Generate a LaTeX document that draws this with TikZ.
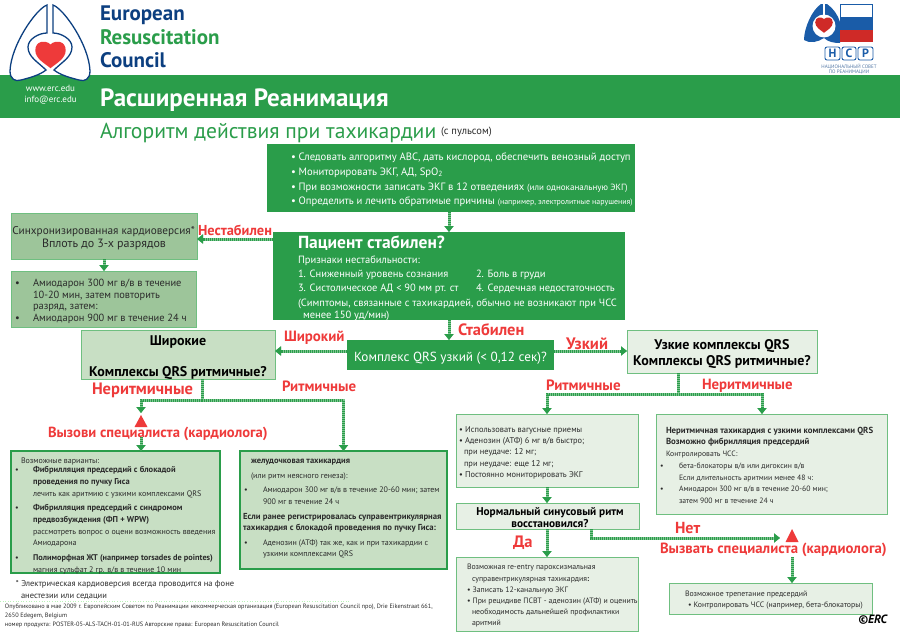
\documentclass[tikz,border=0pt]{standalone}
\usepackage{fontspec}
\setmainfont{PT Sans}
\usetikzlibrary{arrows.meta}
\definecolor{hgreen}{HTML}{2A9D4A}
\definecolor{navy}{HTML}{0C3F80}
\definecolor{lred}{HTML}{EE3A3A}
\definecolor{midg}{HTML}{9DC59A}
\definecolor{paleg}{HTML}{C8DFC4}
\definecolor{verypale}{HTML}{E7F0E5}
\definecolor{bordg}{HTML}{6FBF80}
\definecolor{ink}{HTML}{2B2B2B}
\definecolor{nsrblue}{HTML}{1A5CA8}
\definecolor{nsrred}{HTML}{CF2A27}
\newcounter{txn}
\newcommand\tx[4][]{\stepcounter{txn}\node[txtline,anchor=mid west,#1] (t\thetxn) at (#2,#3) {#4};}
\newcommand\bx[6]{\node[#2,minimum width={(#5-#3)*1pt},minimum height={(#6-#4)*1pt}] (#1) at ({(#3+#5)/2},{(#4+#6)/2}) {};}
\newcommand\heartpath{(0,-9) .. controls (-5,-14) and (-16,-13) .. (-16,-3) .. controls (-16,6) and (-6,11) .. (0,16) .. controls (6,11) and (16,6) .. (16,-3) .. controls (16,-13) and (5,-14) .. (0,-9) -- cycle}
\newcommand\lungpath{(47,5) .. controls (36,9) and (11,45) .. (10,71) .. controls (10,79) and (15,82) .. (21,80) .. controls (29,78) and (40,75) .. (46,70) .. controls (38,62) and (28,57) .. (28,47) .. controls (28,39) and (39,33) .. (47,33) -- cycle}
\tikzset{
  txtline/.style={inner sep=0pt,outer sep=0pt,text=ink},
  fs/.style={font=\fontsize{#1}{#1}\selectfont,yshift={-0.35*(#1-6)*1pt}},
  bs/.style={font=\fontsize{#1}{#1}\selectfont\bfseries,yshift={-0.35*(#1-6)*1pt}},
  wht/.style={text=white},
  lbl/.style={text=lred,font=\fontsize{#1}{#1}\selectfont\bfseries,yshift={-0.35*(#1-6)*1pt}},
  boxbase/.style={rectangle,inner sep=0pt,outer sep=0pt},
  solidbox/.style={boxbase,fill=hgreen},
  midbox/.style={boxbase,fill=midg,draw=bordg,line width=.8pt},
  palebox/.style={boxbase,fill=paleg,draw=bordg,line width=.8pt},
  strongbox/.style={boxbase,fill=paleg,draw=hgreen,line width=1.2pt},
  litebox/.style={boxbase,fill=verypale,draw=bordg,line width=.9pt},
  link/.style={draw=hgreen,line width=3pt,dash pattern=on 1pt off 1pt,preaction={draw=hgreen!60!white,line width=3pt,solid}},
  conn/.style={link,-{Triangle[length=6pt,width=9pt]}},
}
\begin{document}
\begin{tikzpicture}[x=1pt,y=-1pt]
\useasboundingbox (0,0) rectangle (900,637);
% header band
\fill[hgreen] (0,75) rectangle (900,118);
% ERC logo
\filldraw[fill=white,draw=navy,line width=1.3pt] \lungpath;
\begin{scope}[xscale=-1,xshift=-100pt]
\filldraw[fill=white,draw=navy,line width=1.3pt] \lungpath;
\end{scope}
\begin{scope}[shift={(50.5,53)},scale=.95]
\fill[lred] \heartpath;
\end{scope}
\tx[bs=21,text=navy]{100}{13}{European}
\tx[bs=21,text=hgreen]{100}{37}{Resuscitation}
\tx[bs=21,text=navy]{100}{60}{Council}
\tx[fs=9,wht,anchor=mid]{50.5}{88}{www.erc.edu}
\tx[fs=9,wht,anchor=mid]{50.5}{99}{info@erc.edu}
\tx[bs=25,wht]{100}{97}{Расширенная Реанимация}
\tx[fs=21.6,text=hgreen]{100}{131}{Алгоритм действия при тахикардии}
\tx[fs=10.5]{441}{130}{(с  пульсом)}
% NSR logo
\fill[nsrblue] (821,4) .. controls (812,10) and (804,28) .. (804,40) .. controls (810,44) and (818,42) .. (824,38) -- (824,4) -- cycle;
\fill[nsrblue] (827,4) .. controls (833,8) and (838,15) .. (840,22) -- (840,43) .. controls (834,43) and (828,42) .. (824,38) -- (824,4) -- cycle;
\fill[white] (824,26) circle (11.5pt);
\fill[white] (823,4) rectangle (825,16);
\begin{scope}[shift={(824,24)},scale=.55]
\fill[nsrred] \heartpath;
\end{scope}
\draw[nsrblue,line width=.6pt,fill=white] (840,4.5) rectangle (872.5,17);
\fill[nsrblue] (840,17) rectangle (873,30);
\fill[nsrred] (840,30) rectangle (873,42);
\foreach \a/\b/\c/\n in {825/840/Н/h,842/856/С/s,858/873/Р/r}{
  \node[boxbase,draw=nsrblue,line width=.9pt,rounded corners=2pt,minimum width={(\b-\a)*1pt},minimum height=13pt,text=nsrblue,font=\fontsize{12}{12}\selectfont\bfseries] (nsr\n) at ({(\a+\b)/2},53.5) {\c};
}
\tx[fs=5,anchor=mid,text=navy!70]{849}{66}{НАЦИОНАЛЬНЫЙ СОВЕТ}
\tx[fs=5,anchor=mid,text=navy!70]{849}{71.5}{ПО РЕАНИМАЦИИ}
% boxes
\bx{top}{solidbox}{267}{144}{635}{212}
\bx{stable}{solidbox}{273}{232}{625}{320}
\bx{qrs}{solidbox}{347}{340}{554}{370}
\bx{sync}{midbox}{11}{213}{197}{259}
\bx{amio}{midbox}{11}{271}{196}{327}
\bx{wide}{palebox}{81}{330}{275}{379}
\bx{narrow}{litebox}{627}{330}{817}{373}
\bx{wideirr}{strongbox}{11}{451}{220}{573}
\bx{widereg}{strongbox}{240}{451}{447}{569}
\bx{narreg}{litebox}{456}{414}{638}{487}
\bx{narirr}{litebox}{656}{414}{887}{514}
\bx{sinus}{litebox}{456}{503}{639}{529}
\bx{reentry}{litebox}{456}{557}{638}{631}
\bx{flutter}{litebox}{669}{583}{872}{614}
% junctions and free ends
\coordinate (jw) at (202,400);
\coordinate (awarn) at (141,413);
\coordinate (cwarn) at (141,437);
\coordinate (jn) at (678,394);
\coordinate (jreg) at (547,394);
\coordinate (jirr) at (762,394);
\coordinate (sno) at (591,538);
\coordinate (ano) at (780,538);
\coordinate (cspec) at (792,557);
% connectors
\draw[conn] (top.south -| stable.north) -- (stable.north);
\draw[conn] ([yshift=-3pt]stable.west |- sync.east) -- ([yshift=-3pt]sync.east);
\draw[conn] (sync.south) -- (amio.north -| sync.south);
\draw[conn] (stable.south) -- (qrs.north -| stable.south);
\draw[conn] ([yshift=4pt]qrs.west) -- ([yshift=4pt]qrs.west -| wide.east);
\draw[conn] ([yshift=4pt]qrs.east) -- ([yshift=4pt]qrs.east -| narrow.west);
\draw[link] (wide.south -| jw) -- (jw);
\draw[conn] (jw) -| (awarn);
\draw[conn] (jw) -| (widereg.north);
\draw[conn] (cwarn) -- (wideirr.north -| cwarn);
\draw[link] (narrow.south -| jn) -- (jn);
\draw[conn] (jreg) -- (jirr) -- (narirr.north -| jirr);
\draw[conn] (jirr) -- (jreg) -- (narreg.north -| jreg);
\draw[conn] (narreg.south -| jreg) -- (sinus.north -| jreg);
\draw[conn] (sinus.south -| jreg) -- (reentry.north -| jreg);
\draw[conn] (sinus.south -| sno) -- (sno) -- (ano);
\draw[conn] (cspec) -- (flutter.north -| cspec);
\fill[lred] (141,415) -- (147.5,427) -- (134.5,427) -- cycle;
\fill[lred] (792,529) -- (798.5,542) -- (785.5,542) -- cycle;
% top box
\tx[fs=10.65,wht]{291}{156}{• Следовать алгоритму ABC, дать кислород, обеспечить венозный доступ}
\tx[fs=10.65,wht]{291}{171}{• Мониторировать ЭКГ, АД, SpO\textsubscript{2}}
\tx[fs=10.65,wht]{291}{186}{• При возможности записать ЭКГ в 12 отведениях {\fontsize{9}{9}\selectfont (или одноканальную ЭКГ)}}
\tx[fs=10.65,wht]{291}{200}{• Определить и лечить обратимые причины {\fontsize{7.9}{7.9}\selectfont (например, электролитные нарушения)}}
% stable box
\tx[bs=17.5,wht]{298}{242}{Пациент стабилен?}
\tx[fs=10.5,wht]{298}{259}{Признаки нестабильности:}
\tx[fs=10.5,wht]{298}{273}{1. Сниженный уровень сознания}
\tx[fs=10.5,wht]{476}{273}{2. Боль в груди}
\tx[fs=10.5,wht]{298}{287}{3. Систолическое АД < 90 мм рт. ст}
\tx[fs=10.5,wht]{476}{287}{4. Сердечная недостаточность}
\tx[fs=10.5,wht]{298}{302}{(Симптомы, связанные с тахикардией, обычно не возникают при ЧСС}
\tx[fs=10.5,wht]{303}{314}{менее 150 уд/мин)}
\tx[fs=13.2,wht,anchor=mid]{450.5}{356}{Комплекс QRS узкий (< 0,12 сек)?}
% sync + amio
\tx[fs=11.25,anchor=mid]{103.5}{230}{Синхронизированная кардиоверсия*}
\tx[fs=12,anchor=mid]{104}{243}{Вплоть до 3-х разрядов}
\tx[fs=10.4]{15}{282}{•}
\tx[fs=10.4]{33}{282}{Амиодарон 300 мг в/в в течение}
\tx[fs=10.4]{33}{294}{10-20 мин, затем повторить}
\tx[fs=10.4]{33}{305}{разряд, затем:}
\tx[fs=10.4]{15}{317}{•}
\tx[fs=10.4]{33}{317}{Амиодарон 900 мг в течение 24 ч}
% wide / narrow questions
\tx[bs=14,anchor=mid,text=black]{178}{340}{Широкие}
\tx[bs=14,anchor=mid,text=black]{178}{371}{Комплексы QRS  ритмичные?}
\tx[bs=14,anchor=mid,text=black]{722}{344}{Узкие комплексы QRS}
\tx[bs=14,anchor=mid,text=black]{722}{360}{Комплексы QRS ритмичные?}
\tx[bs=11.3,anchor=mid,text=black]{550}{511}{Нормальный синусовый ритм}
\tx[bs=11.3,anchor=mid,text=black]{550}{523}{восстановился?}
% red labels
\tx[lbl=14.4]{198}{230}{Нестабилен}
\tx[lbl=14.9]{284}{336}{Широкий}
\tx[lbl=16.4]{458}{329}{Стабилен}
\tx[lbl=16.6]{566}{343}{Узкий}
\tx[lbl=16.5]{92}{388}{Неритмичные}
\tx[lbl=14.9]{282}{386}{Ритмичные}
\tx[lbl=15]{546}{385}{Ритмичные}
\tx[lbl=14.8]{702}{384}{Неритмичные}
\tx[lbl=14.6]{48}{432}{Вызови специалиста (кардиолога)}
\tx[lbl=14.75]{660}{548}{Вызвать специалиста (кардиолога)}
\tx[lbl=16]{675}{527}{Нет}
\tx[lbl=16.5]{513}{541}{Да}
% wide irregular
\tx[fs=8]{21}{460}{Возможные варианты:}
\tx[fs=8]{15}{469}{•}
\tx[bs=8.5]{33}{469}{Фибрилляция предсердий с блокадой}
\tx[bs=8.5]{33}{481}{проведения по пучку Гиса}
\tx[fs=8]{33}{493}{лечить как аритмию с узкими комплексами QRS}
\tx[fs=8]{15}{507}{•}
\tx[bs=8.5]{33}{507}{Фибрилляция предсердий с синдромом}
\tx[bs=8.5]{33}{519}{предвозбуждения (ФП + WPW)}
\tx[fs=8]{33}{531}{рассмотреть вопрос о оцени возможность введения}
\tx[fs=8]{33}{542}{Амиодарона}
\tx[fs=8]{15}{557}{•}
\tx[bs=8.3]{33}{557}{Полиморфная ЖТ (например torsades de pointes)}
\tx[fs=8]{33}{569}{магния сульфат 2 гр. в/в в течение 10 мин}
% wide regular
\tx[bs=8.5]{251}{460}{желудочковая тахикардия}
\tx[fs=8]{251}{475}{(или  ритм неясного генеза):}
\tx[fs=8]{244}{489}{•}
\tx[fs=8]{263}{489}{Амиодарон 300 мг в/в в течение 20-60 мин; затем}
\tx[fs=8]{263}{501}{900 мг в течение 24 ч}
\tx[bs=8.7]{243}{516}{Если ранее регистрировалась суправентрикулярная}
\tx[bs=8.7]{243}{527}{тахикардия с блокадой проведения по пучку Гиса:}
\tx[fs=8]{244}{542}{•}
\tx[fs=8]{263}{542}{Аденозин (АТФ) так же, как и при тахикардии с}
\tx[fs=8]{263}{553}{узкими комплексами QRS}
% footnote + footer
\tx[fs=8.5]{16}{583}{* Электрическая кардиоверсия всегда проводится на фоне}
\tx[fs=8.5]{21}{595}{анестезии или седации}
\coordinate (fl) at (0,601);
\coordinate (fr) at (350,601);
\draw[verypale!80!green,line width=.6pt,dotted] (fl) -- (fr);
\tx[fs=6.27]{5}{606}{Опубликовано в мае 2009 г. Европейским Советом по Реанимации некоммерческая организация (European Resuscitation Council npo), Drie Eikenstraat 661,}
\tx[fs=6.27]{5}{615}{2650 Edegem, Belgium}
\tx[fs=6.27]{5}{624}{номер продукта: POSTER-05-ALS-TACH-01-01-RUS   Авторские права: European Resuscitation Council}
% narrow regular
\tx[fs=8.4]{459}{429}{• Использовать вагусные приемы}
\tx[fs=8.4]{459}{440}{• Аденозин (АТФ) 6 мг в/в быстро;}
\tx[fs=8.4]{464}{451}{при неудаче: 12 мг;}
\tx[fs=8.4]{464}{463}{при неудаче: еще 12 мг;}
\tx[fs=8.4]{459}{474}{• Постоянно мониторировать ЭКГ}
% narrow irregular
\tx[bs=8.8]{666}{430}{Неритмичная тахикардия с узкими комплексами QRS}
\tx[bs=8.8]{666}{441}{Возможно фибрилляция предсердий}
\tx[fs=7.7]{666}{453}{Контролировать ЧСС:}
\tx[fs=7.7]{660}{465}{•}
\tx[fs=7.7]{679}{465}{бета-блокаторы в/в или дигоксин в/в}
\tx[fs=7.7]{679}{477}{Если длительность аритмии менее 48 ч:}
\tx[fs=7.7]{660}{488}{•}
\tx[fs=7.7]{679}{488}{Амиодарон 300 мг в/в в течение 20-60 мин;}
\tx[fs=7.7]{679}{500}{затем 900 мг в течение 24 ч}
% re-entry
\tx[fs=7.8]{467}{566}{Возможная re-entry  пароксизмальная}
\tx[fs=7.8]{472}{578}{суправентрикулярная тахикардия\textbf{:}}
\tx[fs=7.8]{467}{589}{• Записать 12-канальную ЭКГ}
\tx[fs=7.8]{467}{600}{• При рецидиве ПСВТ - аденозин (АТФ) и оценить}
\tx[fs=7.8]{472}{611}{необходимость дальнейшей профилактики}
\tx[fs=7.8]{472}{622}{аритмий}
% flutter
\tx[fs=7.8]{685}{593}{Возможное трепетание предсердий}
\tx[fs=7.8]{688}{604}{• Контролировать ЧСС (например, бета-блокаторы)}
\tx[font=\fontsize{12}{12}\selectfont\bfseries\itshape,text=black]{858}{621}{©ERC}
\end{tikzpicture}
\end{document}
